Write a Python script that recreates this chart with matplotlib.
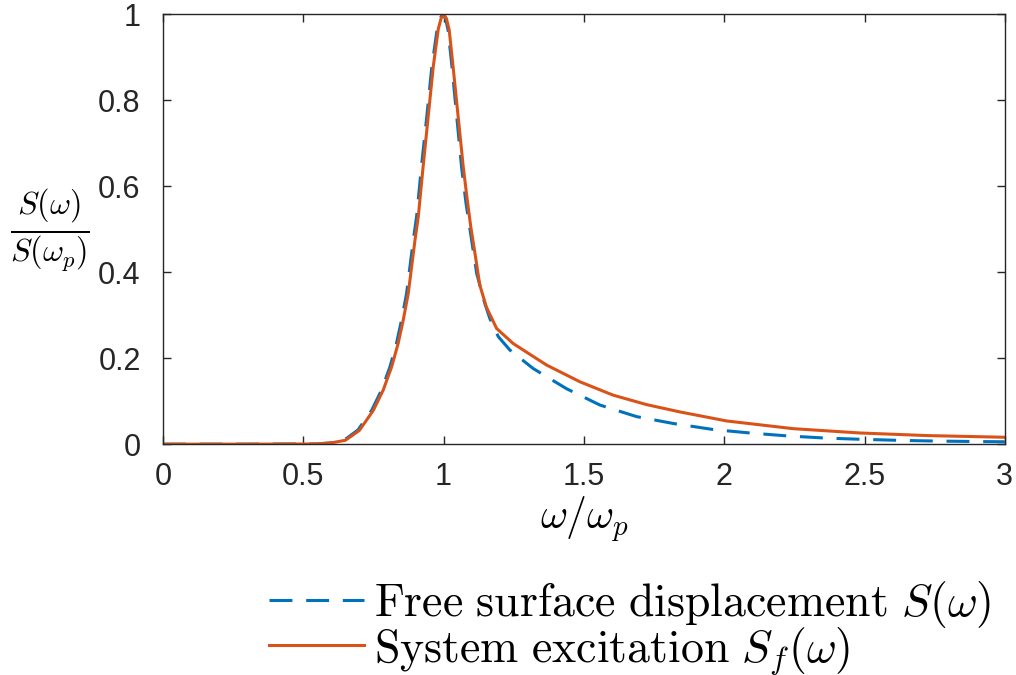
import numpy as np
import matplotlib.pyplot as plt

plt.rcParams['mathtext.fontset'] = 'cm'
plt.rcParams['font.family'] = ['Liberation Sans', 'DejaVu Sans']

# free surface displacement spectrum S(w)/S(wp)
w_s = [0, 0.3, 0.55, 0.6, 0.645, 0.695, 0.744, 0.779, 0.809, 0.832, 0.850, 0.868,
       0.880, 0.892, 0.904, 0.921, 0.940, 0.958, 0.977, 0.987, 0.997, 1.007, 1.016,
       1.030, 1.047, 1.064, 1.080, 1.100, 1.118, 1.147, 1.165, 1.195, 1.236, 1.319,
       1.438, 1.557, 1.688, 1.819, 1.961, 2.091, 2.228, 2.365, 2.501, 2.638, 2.774,
       2.911, 3.0]
s_s = [0, 0, 0.0005, 0.003, 0.009, 0.033, 0.079, 0.126, 0.18, 0.234, 0.288, 0.35,
       0.412, 0.474, 0.53, 0.645, 0.761, 0.877, 0.965, 0.99, 1.0, 0.99, 0.963,
       0.877, 0.761, 0.645, 0.56, 0.474, 0.397, 0.327, 0.292, 0.25, 0.219, 0.176,
       0.129, 0.091, 0.064, 0.048, 0.034, 0.026, 0.019, 0.014, 0.011, 0.0086, 0.007,
       0.006, 0.0055]

# system excitation spectrum Sf(w)/Sf(wp)
w_f = [0, 0.3, 0.55, 0.6, 0.65, 0.70, 0.75, 0.785, 0.815, 0.838, 0.856, 0.874,
       0.886, 0.898, 0.910, 0.927, 0.945, 0.963, 0.981, 0.991, 1.0, 1.01, 1.020,
       1.034, 1.052, 1.070, 1.084, 1.097, 1.112, 1.129, 1.153, 1.189, 1.248, 1.367,
       1.486, 1.604, 1.723, 1.842, 2.008, 2.246, 2.483, 2.721, 3.0]
s_f = [0, 0, 0.0005, 0.003, 0.009, 0.032, 0.079, 0.126, 0.18, 0.234, 0.288, 0.35,
       0.412, 0.474, 0.53, 0.645, 0.761, 0.877, 0.965, 0.99, 1.0, 0.99, 0.963,
       0.877, 0.761, 0.645, 0.57, 0.505, 0.443, 0.37, 0.318, 0.269, 0.234, 0.184,
       0.145, 0.114, 0.092, 0.075, 0.054, 0.036, 0.026, 0.020, 0.016]

xticks = [0, 0.5, 1, 1.5, 2, 2.5, 3]
xticklabels = ['0', '0.5', '1', '1.5', '2', '2.5', '3']
yticks = [0, 0.2, 0.4, 0.6, 0.8, 1]
yticklabels = ['0', '0.2', '0.4', '0.6', '0.8', '1']

fig = plt.figure(figsize=(10.16, 6.75), dpi=100)
ax = fig.add_axes([0.1604, 0.342, 0.8286, 0.637])

ax.plot(w_s, s_s, color='#0072BD', lw=2.2, dashes=(7.5, 4.5),
        label=r'$\mathrm{Free\ surface\ displacement}\ S(\omega)$')
ax.plot(w_f, s_f, color='#D95319', lw=2.2,
        label=r'$\mathrm{System\ excitation}\ S_f(\omega)$')

ax.set_xlim(0, 3)
ax.set_ylim(0, 1)
ax.set_xticks(xticks)
ax.set_xticklabels(xticklabels)
ax.set_yticks(yticks)
ax.set_yticklabels(yticklabels)
ax.tick_params(direction='in', top=True, right=True, labelsize=22,
               colors='#262626', length=6, width=1)
ax.tick_params(axis='x', pad=13)
ax.tick_params(axis='y', pad=16)
for sp in ax.spines.values():
    sp.set_color('#262626')
    sp.set_linewidth(1)

fig.text(0.575, 0.23, r'$\omega/\omega_p$', fontsize=30, ha='center', va='center')
fig.text(0.049, 0.659, r'$\frac{S(\omega)}{S(\omega_p)}$', fontsize=33,
         ha='center', va='center')

fig.legend(loc='center left', bbox_to_anchor=(0.265, 0.0696), frameon=False,
           fontsize=33, handlelength=2.07, handletextpad=0.22, labelspacing=-0.12,
           borderpad=0, borderaxespad=0)

fig.savefig('out.png', dpi=100)
